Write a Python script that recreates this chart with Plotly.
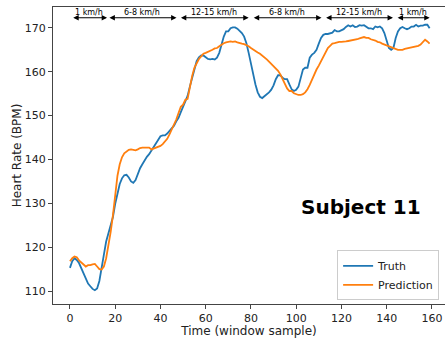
import plotly.graph_objects as go

t = list(range(160))

truth = [
    115.3, 116.8, 117.5, 117.1, 116.4, 115.3, 114.1, 112.9, 111.7, 111.1,
    110.5, 110.2, 110.6, 112.3, 114.9, 118.3, 121.3, 123.2, 124.7, 126.9,
    129.9, 132.6, 134.4, 135.7, 136.4, 136.5, 135.9, 135.0, 134.7, 135.3,
    136.7, 138.0, 138.9, 139.8, 140.6, 141.2, 142.0, 142.9, 143.8, 144.7,
    145.3, 145.5, 145.5, 145.9, 146.5, 147.0, 147.7, 148.7, 149.5, 150.8,
    152.0, 153.2, 154.5, 156.6, 158.6, 160.9, 162.4, 163.3, 163.7, 163.7,
    163.4, 162.9, 162.8, 162.9, 162.8, 163.2, 164.3, 166.2, 168.0, 169.2,
    169.2, 169.9, 170.1, 170.1, 169.8, 169.3, 168.8, 168.0, 166.5, 164.3,
    161.7, 159.4, 157.1, 155.3, 154.3, 154.0, 154.4, 154.9, 155.3, 155.9,
    156.9, 158.3, 159.2, 159.2, 158.6, 158.3, 158.3, 157.1, 156.0, 155.6,
    155.9, 156.6, 158.3, 160.5, 160.9, 160.9, 163.2, 163.9, 164.3, 165.0,
    166.4, 167.7, 168.4, 168.6, 168.6, 168.8, 168.9, 169.5, 169.2, 169.2,
    169.4, 169.7, 170.2, 170.6, 170.3, 170.6, 170.2, 170.3, 170.6, 170.5,
    170.6, 170.3, 169.9, 169.9, 169.7, 170.3, 170.1, 170.3, 169.9, 168.8,
    166.9, 165.4, 165.0, 165.4, 167.7, 169.2, 169.9, 170.2, 169.9, 169.7,
    169.9, 170.3, 170.3, 170.7, 170.3, 170.5, 170.5, 170.7, 170.7, 169.9,
]

prediction = [
    116.8, 117.5, 117.9, 117.7, 117.0, 116.5, 116.0, 115.6, 115.9, 115.9,
    116.1, 116.2, 115.6, 115.0, 114.9, 115.6, 117.5, 120.2, 123.5, 127.3,
    131.8, 136.3, 138.9, 140.5, 141.4, 141.7, 142.2, 142.3, 142.2, 142.1,
    142.3, 142.6, 142.7, 142.7, 142.7, 142.7, 142.3, 142.5, 142.6, 142.9,
    143.1, 143.5, 144.0, 144.7, 145.7, 146.8, 148.0, 149.1, 150.6, 152.0,
    152.5, 153.6, 153.8, 156.6, 159.0, 160.9, 162.0, 162.9, 163.5, 164.1,
    164.3, 164.5, 164.8, 165.0, 165.3, 165.4, 165.8, 166.2, 166.5, 166.7,
    166.8, 166.9, 166.8, 166.9, 166.7, 166.5, 166.4, 166.3, 166.1, 165.8,
    165.4, 165.0, 164.8, 164.4, 164.1, 163.7, 163.4, 162.8, 162.3, 161.8,
    161.3, 160.7, 160.2, 159.4, 158.4, 157.4, 156.2, 155.6, 155.6, 155.1,
    154.9, 154.7, 154.7, 154.9, 155.3, 156.0, 157.0, 158.3, 159.4, 160.5,
    161.4, 162.4, 163.5, 164.5, 165.4, 165.9, 166.4, 166.5, 166.7, 166.8,
    166.8, 166.8, 166.9, 167.0, 167.1, 167.1, 167.3, 167.4, 167.6, 167.7,
    167.9, 167.7, 167.7, 167.4, 167.3, 167.1, 166.8, 166.7, 166.4, 166.2,
    165.9, 165.8, 165.6, 165.4, 165.2, 165.0, 165.0, 165.0, 165.2, 165.3,
    165.5, 165.6, 165.6, 165.8, 165.9, 166.2, 166.7, 167.3, 166.9, 166.4,
]

seg_labels = ["1 km/h", "6-8 km/h", "12-15 km/h", "6-8 km/h", "12-15 km/h", "1 km/h"]
seg_start = [0.8, 16.8, 48.4, 80.6, 112.6, 144.2]
seg_end = [16.4, 47.1, 79.0, 111.2, 142.8, 159.0]
arrow_level = 172.3
label_level = 173.6

x_ticks = [0, 20, 40, 60, 80, 100, 120, 140, 160]
y_ticks = [110, 120, 130, 140, 150, 160, 170]

font = "DejaVu Sans"

fig = go.Figure()
fig.add_trace(go.Scatter(x=t, y=truth, mode="lines", name="Truth",
                         line=dict(color="#1f77b4", width=1.8)))
fig.add_trace(go.Scatter(x=t, y=prediction, mode="lines", name="Prediction",
                         line=dict(color="#ff7f0e", width=1.8)))

annotations = []
for lab, s, e in zip(seg_labels, seg_start, seg_end):
    annotations.append(dict(
        x=e, y=arrow_level, ax=s, ay=arrow_level, xref="x", yref="y",
        axref="x", ayref="y", text="", showarrow=True, arrowhead=2,
        arrowside="end+start", arrowsize=0.9, arrowwidth=1.2,
        arrowcolor="black", standoff=0, startstandoff=0))
    annotations.append(dict(
        x=(s + e) / 2, y=label_level, xref="x", yref="y", text=lab,
        showarrow=False, font=dict(family=font, size=8, color="black")))

annotations.append(dict(
    x=128.6, y=129.2, xref="x", yref="y", text="<b>Subject 11</b>",
    showarrow=False, font=dict(family=font, size=20, color="black")))

fig.update_layout(
    width=445, height=338,
    margin=dict(l=53, r=0, t=7, b=32),
    paper_bgcolor="white", plot_bgcolor="white",
    font=dict(family=font, size=11, color="#222"),
    showlegend=True,
    legend=dict(x=0.985, y=0.012, xanchor="right", yanchor="bottom",
                bgcolor="white", bordercolor="#cccccc", borderwidth=1,
                font=dict(family=font, size=11, color="#222"),
                itemwidth=30, tracegroupgap=0),
    annotations=annotations,
    xaxis=dict(range=[-7.5, 165.8], tickvals=x_ticks, showgrid=False,
               zeroline=False, showline=True, linecolor="#444", linewidth=1,
               mirror=True, ticks="outside", ticklen=4, tickcolor="#444",
               title=dict(text="Time (window sample)", standoff=4,
                          font=dict(family=font, size=12, color="#222"))),
    yaxis=dict(range=[107.06, 174.75], tickvals=y_ticks, showgrid=False,
               zeroline=False, showline=True, linecolor="#444", linewidth=1,
               mirror=False, ticks="outside", ticklen=4, tickcolor="#444",
               title=dict(text="Heart Rate (BPM)", standoff=0,
                          font=dict(family=font, size=12, color="#222"))),
)

fig.write_html("out.html", config={"displayModeBar": False},
               post_script="document.body.style.margin='0';document.body.style.overflow='hidden';")
